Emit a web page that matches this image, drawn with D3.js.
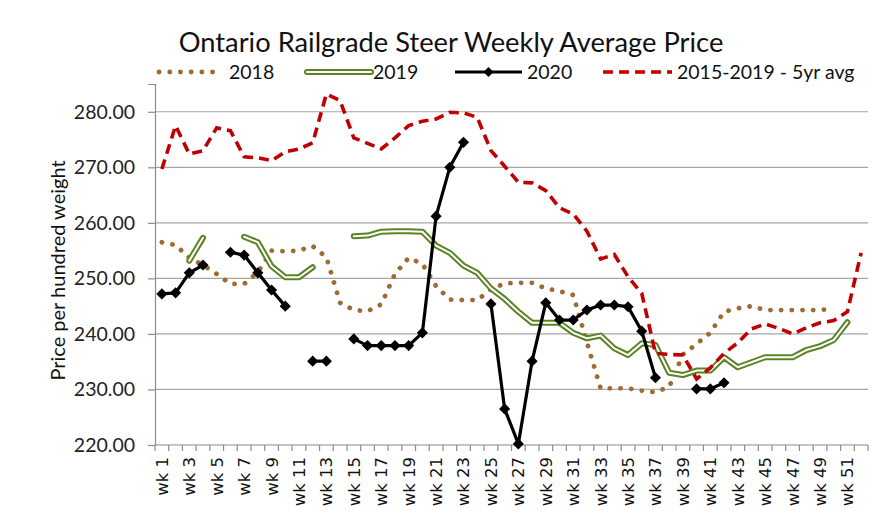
<!DOCTYPE html>
<html>
<head>
<meta charset="utf-8">
<script src="https://cdnjs.cloudflare.com/ajax/libs/d3/7.8.5/d3.min.js"></script>
<style>
  body { margin: 0; background: #fff; }
  svg { display: block; }
</style>
</head>
<body>
<div id="chart"></div>
<script>
'use strict';

// weeks on the x axis
var weeks = d3.range(1, 53).map(function(i) { return 'wk ' + i; });

var yTicks = [220, 230, 240, 250, 260, 270, 280];

var seriesNames = ['2018', '2019', '2020', '2015-2019 - 5yr avg'];

var v2018 = [256.5, 256, 253.7, 252.4, 250.8, 249, 249, 251.1, 255, 254.9,
             255, 255.8, 253.8, 245.6, 244.3, 244.1, 245.3, 250.8, 253.7, 252.6,
             248.6, 246.2, 246.1, 246.1, 248, 249.1, 249.2, 249.2, 248.2, 247.7,
             247, 238.5, 230.2, 230.2, 230.2, 229.8, 229.5, 230.5, 236.3, 238.2,
             240.2, 244, 244.6, 245, 244.3, 244.3, 244.3, 244.3, 244.3, 244.6,
             null, null];

var v2019 = [null, null, 253.2, 257.3, null, null, 257.5, 256.5, 252.2, 250.2,
             250.2, 252, null, null, 257.6, 257.7, 258.4, 258.5, 258.5, 258.4,
             255.9, 254.6, 252.3, 251, 248.2, 246.3, 244, 242, 242, 242,
             240.2, 239.2, 239.7, 237.4, 236.2, 238.3, 238, 233, 232.6, 233.4,
             233.4, 235.8, 234, 234.9, 235.8, 235.8, 235.8, 237.1, 237.8, 238.9,
             242.1, null];

var v2020 = [247.2, 247.4, 251, 252.4, null, 254.7, 254.2, 251, 247.9, 245,
             null, 235.1, 235.1, null, 239.1, 237.9, 237.9, 237.9, 237.9, 240.2,
             261.2, 270, 274.5, null, 245.4, 226.5, 220.2, 235.1, 245.6, 242.5,
             242.5, 244.3, 245.2, 245.2, 244.9, 240.5, 232.1, null, null, 230.1,
             230.1, 231.2, null, null, null, null, null, null, null, null,
             null, null];

var vAvg = [269.7, 277.5, 272.4, 273, 277.1, 276.6, 271.9, 271.7, 271.2, 272.8,
            273.3, 274.4, 283.2, 282, 275.3, 274.3, 273.3, 275.3, 277.5, 278.3,
            278.7, 279.9, 279.8, 279, 273, 270.2, 267.3, 267.2, 265.8, 262.7,
            261.6, 258.5, 253.5, 254.3, 250.3, 247.3, 236.5, 236.3, 236.2, 231.9,
            233.9, 236.5, 238.4, 240.9, 241.8, 241, 240, 241.1, 242, 242.4,
            244, 254.6];

function steerChart() {
    var scope = {};
    var exports = {};

    scope.cw = 883;
    scope.ch = 519;
    scope.margins = {top: 84, bottom: 74, left: 155, right: 15};
    scope.font = 'Lato, "Open Sans", sans-serif';
    scope.colors = {
        s2018: '#9d6c32',
        s2019: '#5a8424',
        s2020: '#000000',
        avg: '#c00000',
        grid: '#a6a6a6',
        axis: '#8c8c8c'
    };

    scope.appendSvg = function(div) {
        var node = d3.select(div).append('svg')
            .attr('width', scope.cw)
            .attr('height', scope.ch);
        return node;
    };

    scope.createScales = function() {
        scope.xScale = d3.scaleBand()
            .domain(weeks)
            .range([scope.margins.left, scope.cw - scope.margins.right])
            .padding(0);

        scope.yScale = d3.scaleLinear()
            .domain([220, 285])
            .range([scope.ch - scope.margins.bottom, scope.margins.top]);
    };

    scope.cx = function(i) {
        return scope.xScale(weeks[i]) + scope.xScale.bandwidth() / 2;
    };

    scope.appendGrid = function(svg) {
        svg.append('g').selectAll('line')
            .data(yTicks.slice(1))
            .enter().append('line')
            .attr('x1', scope.margins.left)
            .attr('x2', scope.cw - scope.margins.right)
            .attr('y1', function(d) { return scope.yScale(d); })
            .attr('y2', function(d) { return scope.yScale(d); })
            .attr('stroke', scope.colors.grid)
            .attr('stroke-width', 1.2);
    };

    scope.appendAxes = function(svg) {
        var yAxis = d3.axisLeft(scope.yScale)
            .tickValues(yTicks)
            .tickSize(7)
            .tickPadding(13)
            .tickFormat(d3.format('.2f'));

        var gy = svg.append('g')
            .attr('transform', 'translate(' + scope.margins.left + ',0)')
            .call(yAxis);
        gy.select('.domain').attr('stroke', scope.colors.axis).attr('stroke-width', 1.2);
        gy.selectAll('.tick line').attr('stroke', scope.colors.axis).attr('stroke-width', 1.2);
        gy.selectAll('.tick text')
            .attr('font-family', scope.font)
            .attr('font-size', 19.5)
            .attr('fill', '#222');

        // x axis: ticks on band edges, label on every other week
        var bottom = scope.yScale(220);
        var gx = svg.append('g');
        gx.append('line')
            .attr('x1', scope.margins.left)
            .attr('x2', scope.cw - scope.margins.right)
            .attr('y1', bottom)
            .attr('y2', bottom)
            .attr('stroke', scope.colors.axis)
            .attr('stroke-width', 1.2);

        var edges = weeks.map(function(w) { return scope.xScale(w); });
        edges.push(scope.cw - scope.margins.right);
        gx.selectAll('.xtick')
            .data(edges)
            .enter().append('line')
            .attr('class', 'xtick')
            .attr('x1', function(d) { return d; })
            .attr('x2', function(d) { return d; })
            .attr('y1', bottom)
            .attr('y2', bottom + 6)
            .attr('stroke', scope.colors.axis)
            .attr('stroke-width', 1.2);

        gx.selectAll('.xlabel')
            .data(weeks.filter(function(d, i) { return i % 2 === 0; }))
            .enter().append('text')
            .attr('class', 'xlabel')
            .attr('transform', function(d) {
                var x = scope.xScale(d) + scope.xScale.bandwidth() / 2;
                return 'translate(' + x + ',' + (bottom + 12) + ') rotate(-90)';
            })
            .attr('text-anchor', 'end')
            .attr('dy', '0.36em')
            .attr('font-family', '"DejaVu Sans", sans-serif')
            .attr('font-size', 16.5)
            .attr('fill', '#111')
            .text(function(d) { return d; });

        svg.append('text')
            .attr('transform', 'translate(65,' + ((scope.yScale(220) + scope.yScale(285)) / 2 + 6) + ') rotate(-90)')
            .attr('text-anchor', 'middle')
            .attr('font-family', scope.font)
            .attr('font-size', 20)
            .attr('fill', '#111')
            .text('Price per hundred weight');
    };

    scope.makeLine = function() {
        return d3.line()
            .defined(function(d) { return d != null; })
            .x(function(d, i) { return scope.cx(i); })
            .y(function(d) { return scope.yScale(d); });
    };

    scope.appendSeries = function(svg) {
        var line = scope.makeLine();

        svg.append('path')
            .datum(v2018)
            .attr('d', line)
            .attr('fill', 'none')
            .attr('stroke', scope.colors.s2018)
            .attr('stroke-width', 4.8)
            .attr('stroke-linecap', 'round')
            .attr('stroke-dasharray', '0.1,10.6');

        svg.append('path')
            .datum(v2019)
            .attr('d', line)
            .attr('fill', 'none')
            .attr('stroke', scope.colors.s2019)
            .attr('stroke-width', 6)
            .attr('stroke-linejoin', 'round')
            .attr('stroke-linecap', 'round');
        svg.append('path')
            .datum(v2019)
            .attr('d', line)
            .attr('fill', 'none')
            .attr('stroke', '#fff')
            .attr('stroke-width', 2)
            .attr('stroke-linejoin', 'round')
            .attr('stroke-linecap', 'round');

        svg.append('path')
            .datum(v2020)
            .attr('d', line)
            .attr('fill', 'none')
            .attr('stroke', scope.colors.s2020)
            .attr('stroke-width', 3.2)
            .attr('stroke-linejoin', 'round');

        var diamond = d3.symbol().type(d3.symbolSquare).size(62);
        svg.append('g').selectAll('path')
            .data(v2020.map(function(d, i) { return {v: d, i: i}; })
                .filter(function(d) { return d.v != null; }))
            .enter().append('path')
            .attr('d', diamond)
            .attr('transform', function(d) {
                return 'translate(' + scope.cx(d.i) + ',' + scope.yScale(d.v) + ') rotate(45)';
            })
            .attr('fill', '#000');

        svg.append('path')
            .datum(vAvg)
            .attr('d', line)
            .attr('fill', 'none')
            .attr('stroke', scope.colors.avg)
            .attr('stroke-width', 3.6)
            .attr('stroke-dasharray', '10,6');
    };

    scope.appendTitle = function(svg) {
        svg.append('text')
            .attr('x', 451)
            .attr('y', 52)
            .attr('text-anchor', 'middle')
            .attr('font-family', scope.font)
            .attr('font-size', 27.3)
            .attr('fill', '#111')
            .text('Ontario Railgrade Steer Weekly Average Price');
    };

    scope.appendLegend = function(svg) {
        var ly = 72;
        var items = [
            {name: seriesNames[0], x1: 157, x2: 222, tx: 229},
            {name: seriesNames[1], x1: 307, x2: 371, tx: 373},
            {name: seriesNames[2], x1: 455, x2: 522, tx: 527},
            {name: seriesNames[3], x1: 603, x2: 672, tx: 677}
        ];
        var g = svg.append('g');

        g.append('line')
            .attr('x1', items[0].x1 + 2).attr('x2', items[0].x2)
            .attr('y1', ly).attr('y2', ly)
            .attr('stroke', scope.colors.s2018)
            .attr('stroke-width', 4.8)
            .attr('stroke-linecap', 'round')
            .attr('stroke-dasharray', '0.1,10.6');

        g.append('line')
            .attr('x1', items[1].x1).attr('x2', items[1].x2)
            .attr('y1', ly).attr('y2', ly)
            .attr('stroke', scope.colors.s2019)
            .attr('stroke-width', 6)
            .attr('stroke-linecap', 'round');
        g.append('line')
            .attr('x1', items[1].x1).attr('x2', items[1].x2)
            .attr('y1', ly).attr('y2', ly)
            .attr('stroke', '#fff')
            .attr('stroke-width', 2)
            .attr('stroke-linecap', 'round');

        g.append('line')
            .attr('x1', items[2].x1).attr('x2', items[2].x2)
            .attr('y1', ly).attr('y2', ly)
            .attr('stroke', '#000')
            .attr('stroke-width', 3.2);
        g.append('path')
            .attr('d', d3.symbol().type(d3.symbolSquare).size(50))
            .attr('transform', 'translate(' + ((items[2].x1 + items[2].x2) / 2) + ',' + ly + ') rotate(45)')
            .attr('fill', '#000');

        g.append('line')
            .attr('x1', items[3].x1).attr('x2', items[3].x2)
            .attr('y1', ly).attr('y2', ly)
            .attr('stroke', scope.colors.avg)
            .attr('stroke-width', 3.6)
            .attr('stroke-dasharray', '10,6');

        g.selectAll('text')
            .data(items)
            .enter().append('text')
            .attr('x', function(d) { return d.tx; })
            .attr('y', ly)
            .attr('dy', '0.36em')
            .attr('font-family', scope.font)
            .attr('font-size', 19.5)
            .attr('fill', '#111')
            .text(function(d) { return d.name; });
    };

    exports.run = function(div) {
        var svg = scope.appendSvg(div);
        scope.createScales();
        scope.appendGrid(svg);
        scope.appendAxes(svg);
        scope.appendSeries(svg);
        scope.appendTitle(svg);
        scope.appendLegend(svg);
    };

    return exports;
}

steerChart().run('#chart');
</script>
</body>
</html>
